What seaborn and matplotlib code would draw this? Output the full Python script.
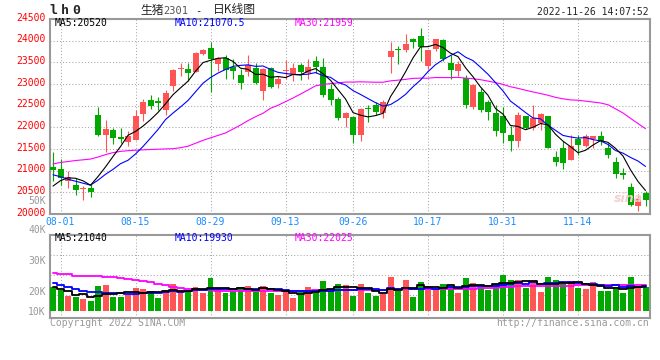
import matplotlib

matplotlib.use("Agg")

import matplotlib.pyplot as plt
import matplotlib.transforms as mtransforms
import numpy as np
import pandas as pd
import seaborn as sns

# one row per trading session, 2022-07-29 .. 2022-11-25 (80 sessions)
opens = [21080, 21030, 20760, 20670, 20570, 20590, 22280, 21830, 21940, 21775,
         21665, 21710, 22300, 22620, 22600, 22395, 22960, 23350, 23340, 23285,
         23700, 23830, 23455, 23605, 23385, 23210, 23285, 23365, 22850, 23365,
         22990, 23290, 23240, 23440, 23265, 23530, 23395, 22890, 22660, 22205,
         22240, 21825, 22440, 22505, 22325, 23620, 23790, 23795, 24050, 24100,
         23415, 23800, 24020, 23490, 23300, 23135, 22470, 22810, 22580, 22320,
         22265, 21825, 21675, 22255, 21980, 22105, 22255, 21320, 21525, 21255,
         21725, 21560, 21725, 21800, 21525, 21195, 20925, 20615, 20195, 20485]
closes = [21010, 20820, 20850, 20560, 20590, 20500, 21820, 21960, 21765, 21735,
          21800, 22265, 22580, 22500, 22570, 22795, 23320, 23370, 23265, 23720,
          23795, 23585, 23600, 23330, 23295, 23015, 23450, 23015, 23350, 22940,
          23110, 23325, 23378, 23285, 23395, 23395, 22735, 22620, 22205, 22320,
          21825, 22430, 22425, 22355, 22580, 23755, 23775, 23930, 23970, 23855,
          23780, 24030, 23570, 23320, 23455, 22505, 22985, 22395, 22355, 21925,
          21865, 21675, 22280, 21980, 22205, 22300, 21525, 21195, 21180, 21575,
          21600, 21800, 21800, 21695, 21370, 20915, 20910, 20210, 20350, 20330]
highs = [21420, 21260, 21000, 20820, 20640, 20690, 22470, 22170, 21985, 21985,
         21910, 22390, 22660, 22750, 22710, 22870, 23355, 23495, 23485, 23735,
         23810, 23960, 23620, 23680, 23570, 23350, 23665, 23490, 23380, 23390,
         23180, 23565, 23490, 23475, 23570, 23650, 23605, 23000, 22710, 22355,
         22255, 22440, 22505, 22580, 22620, 23970, 23870, 24150, 24060, 24300,
         23790, 24050, 24050, 23680, 23520, 23210, 23000, 22910, 22635, 22505,
         22470, 22030, 22355, 22260, 22505, 22320, 22260, 21445, 21675, 21825,
         21825, 21840, 21805, 21915, 21635, 21320, 21070, 20710, 20460, 20535]
lows = [20760, 20680, 20610, 20440, 20330, 20400, 21800, 21420, 21605, 21635,
        21560, 21700, 22150, 22430, 22390, 22280, 22830, 23190, 23075, 23280,
        23680, 22810, 23300, 23115, 23115, 22880, 23190, 23000, 22640, 22910,
        22915, 23120, 23075, 23090, 23115, 23250, 22710, 22510, 22165, 22015,
        21650, 21675, 22125, 22280, 22225, 23265, 23455, 23740, 23820, 23530,
        23340, 23757, 23530, 23120, 23190, 22440, 22415, 22355, 22165, 21810,
        21650, 21445, 21545, 21965, 21940, 21940, 21520, 21105, 21030, 21250,
        21370, 21545, 21525, 21600, 21295, 20825, 20800, 20195, 20080, 20195]
volumes = [22150, 20500, 17670, 17000, 16000, 15000, 22500, 23000, 17000, 17000,
           17830, 21500, 21000, 20000, 16500, 20500, 23500, 20000, 20000, 22000,
           19000, 26500, 21000, 19000, 20000, 22000, 22500, 19500, 22500, 19000,
           18000, 20000, 16500, 19500, 22000, 19000, 25000, 20500, 23500, 23000,
           17500, 23500, 19000, 17500, 18500, 27000, 20000, 25500, 17000, 24500,
           22500, 21000, 23500, 22500, 19000, 26500, 24000, 23000, 20670, 23500,
           28000, 25500, 25500, 21500, 25000, 19500, 27000, 25500, 23500, 25000,
           21500, 21000, 24500, 20000, 20000, 22000, 19000, 27000, 21500, 22000]

# first points of each average depend on sessions before the window
ma5_head = [20645, 20770, 20835, 20825]
ma10_head = [20905, 20860, 20802, 20757, 20711, 20666, 20780, 20916, 21030]
ma30_head = [21155, 21189, 21211, 21234, 21250, 21268, 21314, 21370, 21416, 21445,
             21461, 21473, 21480, 21489, 21495, 21502, 21507, 21530, 21564, 21632,
             21700, 21757, 21814, 21870, 21961, 22052, 22155, 22245, 22325]
vol_ma5_head = [22000, 21250, 20000, 18250]
vol_ma10_head = [24000, 23250, 22250, 21250, 20250, 19650, 19500, 19250, 19000]
vol_ma30_head = [28850, 28750, 28600, 27750, 27600, 27500, 27350, 27200, 26850, 26500,
                 26000, 25500, 25000, 24350, 23750, 23000, 22250, 21650, 21250, 21000,
                 20650, 20350, 20150, 20100, 20100, 20100, 20000, 19900, 19850]

date_ticks = [1, 11, 21, 31, 40, 50, 60, 70]
date_labels = ["08-01", "08-15", "08-29", "09-13", "09-26", "10-17", "10-31", "11-14"]
price_ticks = [20000, 20500, 21000, 21500, 22000, 22500, 23000, 23500, 24000, 24500]

RED = "#ff5555"
GREEN = "#00a800"
BORDER = "#999999"
GRID = "#a8a8a8"
GREY_TEXT = "#999999"
DATE_BLUE = "#1a8cff"
VOL_BASE = 10000

W, H = 660, 360


def moving_average(values, window, head):
    out = pd.Series(values, dtype=float).rolling(window).mean()
    out.iloc[: len(head)] = head
    return out


df = pd.DataFrame(
    {"open": opens, "close": closes, "high": highs, "low": lows, "volume": volumes}
)
df["day"] = np.arange(len(df))
df["trend"] = np.where(df["close"] >= df["open"], "up", "down")
df["ma5"] = moving_average(closes, 5, ma5_head)
df["ma10"] = moving_average(closes, 10, ma10_head)
df["ma30"] = moving_average(closes, 30, ma30_head)
df["vma5"] = moving_average(volumes, 5, vol_ma5_head)
df["vma10"] = moving_average(volumes, 10, vol_ma10_head)
df["vma30"] = moving_average(volumes, 30, vol_ma30_head)
df["vol_height"] = df["volume"] - VOL_BASE
palette = {"up": RED, "down": GREEN}
bar_colors = df["trend"].map(palette)

sns.set_theme(style="white")
plt.rcParams["font.family"] = ["DejaVu Sans Mono", "Noto Sans CJK SC"]

fig = plt.figure(figsize=(W / 100, H / 100), dpi=100)
ax = fig.add_axes([50 / W, 1 - 214 / H, 600 / W, 195 / H])
axv = fig.add_axes([50 / W, 1 - 318 / H, 600 / W, 83 / H])

# candles
ax.vlines(df["day"], df["low"], df["high"], colors=bar_colors, lw=0.8, zorder=3)
body_low = df[["open", "close"]].min(axis=1)
body_h = (df["close"] - df["open"]).abs().clip(lower=25)
ax.bar(df["day"], body_h, bottom=body_low, width=0.8, color=bar_colors, lw=0, zorder=4)

for col, color in [("ma30", "#ff00ff"), ("ma10", "#0000ff"), ("ma5", "black")]:
    sns.lineplot(data=df, x="day", y=col, ax=ax, color=color, lw=0.8, zorder=5)

# volume
sns.barplot(
    data=df, x="day", y="vol_height", hue="trend", palette=palette, native_scale=True,
    width=0.8, saturation=1, errorbar=None, legend=False, linewidth=0,
    edgecolor="none", bottom=VOL_BASE, ax=axv, zorder=3,
)
for col, color in [("vma30", "#ff00ff"), ("vma10", "#0000ff"), ("vma5", "black")]:
    sns.lineplot(data=df, x="day", y=col, ax=axv, color=color, lw=1.3,
                 drawstyle="steps-mid", zorder=5)

for a in (ax, axv):
    a.set_xlim(-0.4, 79.6)
    a.set_xlabel("")
    a.set_ylabel("")
    for spine in a.spines.values():
        spine.set_color(BORDER)
        spine.set_linewidth(1.5)
    a.set_xticks(date_ticks)
    a.grid(True, axis="x", color=GRID, linestyle=(0, (1, 2)), lw=0.75)
    a.tick_params(length=0)

ax.set_ylim(20000, 24500)
ax.set_yticks(price_ticks)
ax.set_yticklabels([str(v) for v in price_ticks], color="red", fontsize=7)
ax.grid(True, axis="y", color=GRID, linestyle=(0, (1, 2)), lw=0.75)
ax.set_xticklabels(date_labels, color=DATE_BLUE, fontsize=7)
ax.tick_params(axis="y", pad=3)
ax.tick_params(axis="x", pad=2)
# the price labels sit a couple of pixels above their grid lines
lift = mtransforms.ScaledTranslation(0, 1.6 / 72, fig.dpi_scale_trans)
for tick_label in ax.get_yticklabels():
    tick_label.set_transform(tick_label.get_transform() + lift)

axv.set_ylim(6500, 48000)
axv.set_yticks([10000, 20000])
axv.set_yticklabels(["10K", "20K"], color=GREY_TEXT, fontsize=7)
axv.tick_params(axis="y", pad=3)
axv.set_xticklabels([])
for level in (18000, 28000, 38000):
    axv.axhline(level, color=GRID, linestyle=(0, (1, 2)), lw=0.75, zorder=1)


def label(x, y, s, **kw):
    kw.setdefault("va", "center")
    kw.setdefault("fontsize", 7)
    fig.text(x / W, 1 - y / H, s, **kw)


# symbol code, drawn letter by letter like the wide bitmap font of the original
for x, ch in [(49, "l"), (61, "h"), (72, "0")]:
    label(x, 11, ch, fontweight="bold", fontsize=9.5)
label(140, 10, "生猪", family=["Noto Sans CJK SC"], fontsize=8.5)
label(163, 11, "2301", color="#555555", fontsize=7.5)
label(195, 11, "-", fontsize=7.5)
label(213, 10, "日K线图", family=["Noto Sans CJK SC"], fontsize=8.5)
label(649, 12, "2022-11-26 14:07:52", ha="right")

label(55, 23, "MA5:20520", color="black")
label(175, 23, "MA10:21070.5", color="#0000ff")
label(295, 23, "MA30:21959", color="#ff00ff")

label(55, 238, "MA5:21040", color="black")
label(175, 238, "MA10:19930", color="#0000ff")
label(295, 238, "MA30:22025", color="#ff00ff")

label(46, 201, "50K", ha="right", color=GREY_TEXT)
label(46, 230, "40K", ha="right", color=GREY_TEXT)
label(46, 261, "30K", ha="right", color=GREY_TEXT)

label(50, 323, "Copyright 2022 SINA.COM", color=GREY_TEXT)
label(649, 323, "http://finance.sina.com.cn", ha="right", color=GREY_TEXT)
label(628, 198, "sina", ha="center", color="#f2d0d0", fontsize=9,
      fontweight="bold", style="italic", family=["DejaVu Sans"])

fig.savefig("out.png", dpi=100)
plt.close(fig)
